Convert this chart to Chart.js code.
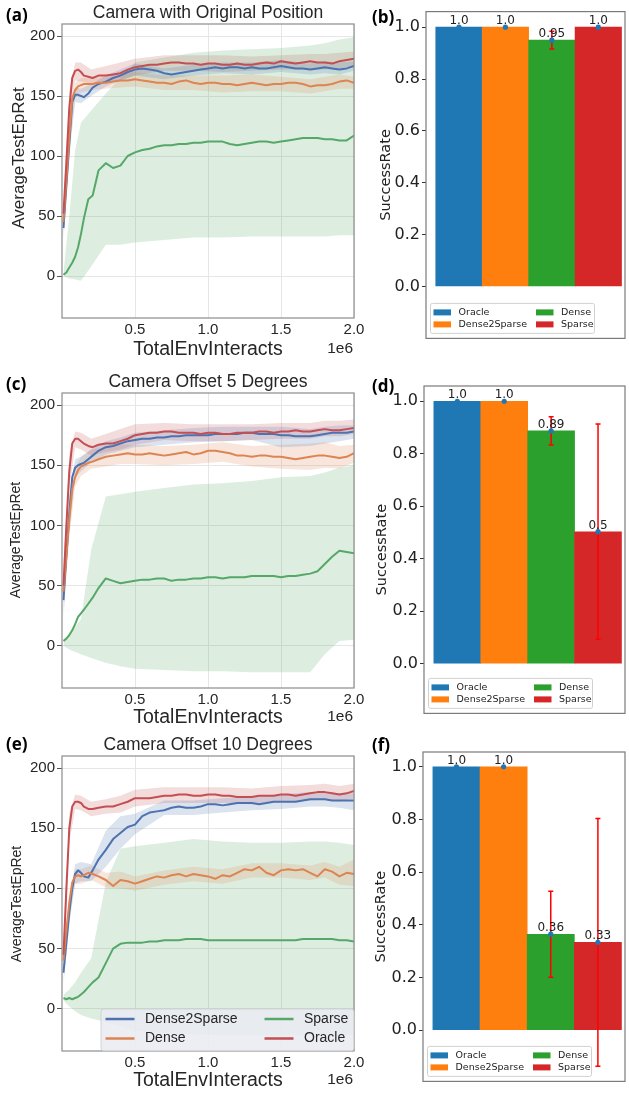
<!DOCTYPE html>
<html>
<head>
<meta charset="utf-8">
<script src="https://cdn.jsdelivr.net/npm/chart.js@4.4.0/dist/chart.umd.min.js"></script>
<style>
  body { margin: 0; background: #fff; }
  #fig { position: relative; width: 629px; height: 1093px; overflow: hidden; }
  #fig canvas { position: absolute; }
</style>
</head>
<body>
<div id="fig">
  <canvas id="retA" width="370" height="361" style="left:0;top:0"></canvas>
  <canvas id="rateB" width="259" height="350" style="left:370px;top:0"></canvas>
  <canvas id="retC" width="370" height="369" style="left:0;top:360px"></canvas>
  <canvas id="rateD" width="259" height="365" style="left:370px;top:360px"></canvas>
  <canvas id="retE" width="370" height="368" style="left:0;top:724px"></canvas>
  <canvas id="rateF" width="259" height="369" style="left:370px;top:724px"></canvas>
</div>
<script>
// x positions in units of 1e6 interactions
const steps = [0.01,0.03,0.05,0.07,0.09,0.11,0.13,0.15,0.18,0.21,0.25,
  0.30,0.35,0.40,0.45,0.50,0.55,0.60,0.65,0.70,0.75,0.80,0.85,0.90,0.95,1.00,1.05,1.10,1.15,1.20,1.25,
  1.30,1.35,1.40,1.45,1.50,1.55,1.60,1.65,1.70,1.75,1.80,1.85,1.90,1.95,2.00];
const bandSteps = [0.01,0.05,0.09,0.13,0.2,0.3,0.4,0.5,0.7,0.9,1.1,1.3,1.5,1.7,1.8,1.9,2.0];

const seriesNames = ['Dense2Sparse', 'Dense', 'Sparse', 'Oracle'];
const xTicks = [0.5, 1.0, 1.5, 2.0];
const retTicks = [0, 50, 100, 150, 200];

// (a) original position
const origD2S = [40,75,110,145,151,151,150,149,152,157,160, 162,165,167,170,172,173,172,171,169,168, 169,170,171,172,173,174,173,174,174,173, 174,173,173,174,175,174,173,173,172,173, 174,173,172,173,175];
const origDense = [45,80,115,148,155,158,159,160,160,160,161, 161,162,163,163,164,163,162,161,161,160, 162,163,161,160,161,161,160,160,159,160, 161,160,159,160,160,161,161,160,158,159, 159,160,162,163,161];
const origSparse = [1,3,7,11,16,24,35,48,64,67,88, 94,90,92,100,103,105,106,108,109,109, 110,110,111,111,112,112,112,110,109,110, 111,112,112,111,112,113,114,115,115,115, 114,114,113,113,117];
const origOracle = [52,95,140,165,171,172,170,167,166,165,167, 167,168,169,172,174,175,176,176,177,178, 178,177,177,176,177,177,176,176,177,176, 176,177,178,177,179,178,177,178,179,178, 178,177,179,180,181];
const origD2SLo = [30,100,145,144,150,158,163,167,164,167,169,168,170,168,169,168,171];
const origD2SHi = [50,120,157,156,160,167,172,177,173,176,178,178,180,177,179,178,179];
const origDenseLo = [35,105,149,153,155,156,157,158,155,155,153,154,154,152,154,156,156];
const origDenseHi = [55,125,161,165,165,166,169,170,167,167,167,168,166,164,166,168,166];
const origSparseLo = [0,-2,-3,-4,8,26,26,28,30,32,32,33,33,33,33,34,34];
const origSparseHi = [3,50,105,128,138,152,165,178,182,186,188,189,190,192,194,197,199];
const origOracleLo = [35,125,163,162,160,161,163,167,171,171,170,171,172,172,172,173,175];
const origOracleHi = [60,155,178,178,172,175,178,181,184,184,184,183,184,185,185,186,187];

// (c) camera offset 5 degrees
const off5D2S = [38,75,110,140,148,150,151,152,155,158,162, 165,166,168,170,171,172,172,173,173,174, 174,175,175,175,175,176,176,176,176,177, 177,176,176,176,175,175,174,174,174,175, 176,177,177,177,178];
const off5Dense = [45,75,105,130,140,146,149,150,152,153,155, 157,158,159,160,159,159,160,159,158,159, 160,161,159,160,162,162,161,160,158,158, 157,158,158,157,157,156,155,156,157,158, 158,157,156,157,160];
const off5Sparse = [4,6,9,13,18,24,27,30,35,40,48, 56,54,52,53,54,55,55,56,56,54, 55,55,56,56,57,57,56,57,57,57, 58,58,58,58,57,58,58,59,60,62, 68,74,79,78,77];
const off5Oracle = [50,100,145,168,172,172,170,168,166,165,167, 168,168,170,172,175,176,177,177,178,178, 177,177,177,176,177,177,176,176,177,177, 177,178,178,177,178,178,179,178,178,179, 180,179,179,180,181];
const off5D2SLo = [22,95,140,145,152,159,162,165,167,169,170,171,165,166,168,170,172];
const off5D2SHi = [50,125,155,157,163,170,173,177,179,181,182,182,182,180,182,183,183];
const off5DenseLo = [30,90,132,141,147,149,151,151,150,151,153,149,147,146,148,147,152];
const off5DenseHi = [55,120,148,157,163,165,167,167,166,167,169,166,167,168,169,166,167];
const off5SparseLo = [0,-3,-5,-7,-10,-14,-17,-19,-20,-21,-21,-22,-22,-22,-7,4,5];
const off5SparseHi = [5,10,16,22,80,124,126,128,131,134,135,137,140,141,144,148,150];
const off5OracleLo = [30,130,165,163,158,161,163,167,171,170,170,171,172,172,174,174,176];
const off5OracleHi = [65,160,178,177,172,176,180,184,185,184,184,184,185,185,187,187,188];

// (e) camera offset 10 degrees
const off10D2S = [30,55,80,100,112,115,113,110,109,115,124, 132,141,146,151,153,160,163,164,165,167, 168,167,167,168,170,170,169,170,171,171, 171,170,171,172,172,172,172,173,174,174, 174,173,173,173,173];
const off10Dense = [40,65,88,105,110,111,110,111,113,112,110, 107,102,107,106,104,106,108,110,109,111, 112,110,112,111,110,108,111,110,113,116, 115,118,113,111,115,116,115,116,113,110, 116,114,110,113,112];
const off10Sparse = [9,8,9,8,9,10,12,14,18,22,26, 38,50,54,55,55,55,56,56,57,57, 57,58,58,58,57,57,57,57,57,57, 57,57,57,57,57,57,57,58,58,58, 58,58,57,57,56];
const off10Oracle = [45,100,150,168,172,172,171,168,166,166,167, 168,168,170,172,175,175,175,176,177,177, 178,178,177,177,178,178,177,177,176,176, 176,177,177,177,178,178,177,178,179,180, 180,179,178,179,181];
const off10D2SLo = [20,70,104,106,106,118,133,145,161,161,163,165,166,168,168,167,165];
const off10D2SHi = [40,90,120,122,120,148,160,162,173,173,175,177,178,180,180,179,179];
const off10DenseLo = [30,80,104,104,107,101,100,98,103,106,104,109,109,107,109,103,102];
const off10DenseHi = [50,96,116,116,119,113,114,110,115,118,116,121,121,119,122,118,124];
const off10SparseLo = [7,2,-2,-5,-8,-11,-14,-18,-20,-21,-22,-22,-22,-22,-22,-22,-22];
const off10SparseHi = [12,16,22,30,42,105,133,135,138,141,139,138,138,139,139,138,136];
const off10OracleLo = [30,138,166,165,160,162,163,168,171,171,171,170,172,173,174,172,175];
const off10OracleHi = [60,162,178,177,172,174,177,182,184,184,184,183,185,186,187,185,187];

// success rate bars
const barNames = ['Oracle', 'Dense2Sparse', 'Dense', 'Sparse'];
const rateTicks = [0, 0.2, 0.4, 0.6, 0.8, 1.0];
const origRate = [1.0, 1.0, 0.95, 1.0];
const origErr = [0, 0, 0.034, 0];
const origText = ['1.0', '1.0', '0.95', '1.0'];
const off5Rate = [1.0, 1.0, 0.887, 0.503];
const off5Err = [0, 0, 0.054, 0.41];
const off5Text = ['1.0', '1.0', '0.89', '0.5'];
const off10Rate = [1.0, 1.0, 0.364, 0.333];
const off10Err = [0, 0, 0.163, 0.47];
const off10Text = ['1.0', '1.0', '0.36', '0.33'];

const lineColors = ['#4c72b0', '#dd8452', '#55a868', '#c44e52'];
const bandColors = ['rgba(76,114,176,0.2)', 'rgba(221,132,82,0.2)', 'rgba(85,168,104,0.2)', 'rgba(196,78,82,0.2)'];
const barColors = ['#1f77b4', '#ff7f0e', '#2ca02c', '#d62728'];
const SEA = '"Liberation Sans", Arial, sans-serif';
const MPL = '"DejaVu Sans", sans-serif';

Chart.defaults.font.family = SEA;
Chart.defaults.color = '#262626';

const toPts = (xs, ys) => ys.map((y, i) => ({ x: xs[i], y: y }));

const retDeco = {
  id: 'retDeco',
  afterDraw(chart, args, o) {
    const ctx = chart.ctx, a = chart.chartArea;
    ctx.save();
    ctx.strokeStyle = '#8c8c8c';
    ctx.lineWidth = 1.2;
    ctx.strokeRect(a.left, a.top, a.right - a.left, a.bottom - a.top);

    ctx.fillStyle = '#262626';
    ctx.textBaseline = 'middle';
    ctx.textAlign = 'center';
    ctx.font = '17.5px ' + SEA;
    ctx.fillText(o.title, (a.left + a.right) / 2, a.top - 11);

    ctx.textAlign = 'right';
    ctx.font = '15.5px ' + SEA;
    ctx.fillText('1e6', a.right - 1, chart.height - 12);

    ctx.save();
    ctx.translate(o.yTitleX, o.yTitleMid);
    ctx.rotate(-Math.PI / 2);
    ctx.textAlign = 'center';
    ctx.font = o.yTitleSize + 'px ' + SEA;
    ctx.fillText('AverageTestEpRet', 0, 0);
    ctx.restore();

    ctx.fillStyle = '#000';
    ctx.textAlign = 'left';
    ctx.font = 'bold 17px "Open Sans", sans-serif';
    ctx.fillText(o.letter, 6, o.letterY);

    if (o.legend) {
      const L = a.left + 39, R = a.right, B = a.bottom, T = B - 42;
      ctx.fillStyle = 'rgba(234,234,242,0.85)';
      ctx.strokeStyle = 'rgba(204,204,204,0.8)';
      ctx.lineWidth = 1;
      ctx.beginPath();
      ctx.roundRect(L, T, R - L, B - T, 3);
      ctx.fill();
      ctx.stroke();
      const slots = [[0, 0, 0], [2, 159, 0], [1, 0, 1], [3, 159, 1]];
      ctx.font = '14px ' + SEA;
      ctx.lineWidth = 2.5;
      slots.forEach(([k, dx, row]) => {
        const cy = T + 10 + row * 19.5;
        ctx.strokeStyle = lineColors[k];
        ctx.beginPath();
        ctx.moveTo(L + 4.5 + dx, cy);
        ctx.lineTo(L + 33.5 + dx, cy);
        ctx.stroke();
        ctx.fillStyle = '#262626';
        ctx.fillText(seriesNames[k], L + 44 + dx, cy);
      });
    }
    ctx.restore();
  }
};

function retChart(id, p) {
  const datasets = [];
  p.lo.forEach((lo, k) => {
    datasets.push({ data: toPts(bandSteps, p.hi[k]), borderColor: 'transparent', borderWidth: 0, pointRadius: 0,
      backgroundColor: bandColors[k], fill: '+1', order: 10 });
    datasets.push({ data: toPts(bandSteps, lo), borderColor: 'transparent', borderWidth: 0, pointRadius: 0,
      fill: false, order: 10 });
  });
  p.means.forEach((m, k) => {
    datasets.push({ label: seriesNames[k], data: toPts(steps, m), borderColor: lineColors[k], borderWidth: 2,
      pointRadius: 0, fill: false, order: 4 - k, borderJoinStyle: 'round' });
  });

  new Chart(document.getElementById(id), {
    type: 'line',
    data: { datasets: datasets },
    options: {
      responsive: false,
      devicePixelRatio: 1,
      animation: false,
      layout: { padding: { top: p.top, right: 16, bottom: 0, left: 0 } },
      plugins: {
        legend: { display: false },
        tooltip: { enabled: false },
        retDeco: { title: p.title, letter: p.letter, letterY: p.letterY, yTitleX: p.yTitleX,
          yTitleMid: p.yTitleMid, yTitleSize: p.yTitleSize, legend: !!p.legend }
      },
      scales: {
        x: {
          type: 'linear', min: 0, max: 2,
          afterBuildTicks: s => { s.ticks = xTicks.map(v => ({ value: v })); },
          afterFit: s => { s.height = p.xH; },
          grid: { color: '#e6e6e6', drawTicks: false },
          border: { display: false },
          ticks: { font: { size: 15 }, color: '#262626', padding: 3, maxRotation: 0, callback: v => v.toFixed(1) },
          title: { display: true, text: 'TotalEnvInteracts', color: '#262626', font: { size: 19.5, lineHeight: 1.2 }, padding: 0 }
        },
        y: {
          min: -35, max: 210,
          afterBuildTicks: s => { s.ticks = retTicks.map(v => ({ value: v })); },
          afterFit: s => { s.width = 62; },
          grid: { color: '#e6e6e6', tickColor: '#555', tickLength: 5 },
          border: { display: false },
          ticks: { font: { size: 15 }, color: '#262626', padding: 2, callback: v => String(v) }
        }
      }
    },
    plugins: [retDeco]
  });
}

const rateDeco = {
  id: 'rateDeco',
  afterDatasetDraw(chart, args) {
    if (args.index !== 0) return;
    const ds = chart.data.datasets[0];
    const ctx = chart.ctx, x = chart.scales.x, y = chart.scales.y;
    ctx.save();
    ctx.strokeStyle = '#ff0000';
    ctx.lineWidth = 1.5;
    ds.data.forEach((pt, i) => {
      const e = ds.errors[i];
      if (!e) return;
      const px = x.getPixelForValue(pt.x);
      const y1 = y.getPixelForValue(pt.y - e), y2 = y.getPixelForValue(pt.y + e);
      ctx.beginPath();
      ctx.moveTo(px, y1); ctx.lineTo(px, y2);
      ctx.moveTo(px - 2.5, y1); ctx.lineTo(px + 2.5, y1);
      ctx.moveTo(px - 2.5, y2); ctx.lineTo(px + 2.5, y2);
      ctx.stroke();
    });
    ctx.restore();
  },
  afterDraw(chart, args, o) {
    const ctx = chart.ctx, a = chart.chartArea, x = chart.scales.x, y = chart.scales.y;
    const ds = chart.data.datasets[0];
    ctx.save();
    ctx.strokeStyle = '#7a7a7a';
    ctx.lineWidth = 1.2;
    ctx.strokeRect(a.left, a.top, a.right - a.left, a.bottom - a.top);

    ctx.fillStyle = '#222';
    ctx.textAlign = 'center';
    ctx.textBaseline = 'alphabetic';
    ctx.font = '12px ' + MPL;
    ds.data.forEach((pt, i) => {
      ctx.fillText(ds.valueText[i], x.getPixelForValue(pt.x), y.getPixelForValue(pt.y) - 3);
    });

    ctx.save();
    ctx.translate(o.yTitleX, (a.top + a.bottom) / 2);
    ctx.rotate(-Math.PI / 2);
    ctx.textBaseline = 'middle';
    ctx.font = '14.5px ' + MPL;
    ctx.fillText('SuccessRate', 0, 0);
    ctx.restore();

    ctx.fillStyle = '#000';
    ctx.textAlign = 'left';
    ctx.textBaseline = 'middle';
    ctx.font = 'bold 17px "Open Sans", sans-serif';
    ctx.fillText(o.letter, 2, o.letterY);

    // legend box, two columns
    const L = a.left + 4.5, B = a.bottom - 5, T = B - 30, W = 164;
    ctx.fillStyle = 'rgba(255,255,255,0.85)';
    ctx.strokeStyle = '#d0d0d0';
    ctx.lineWidth = 1;
    ctx.beginPath();
    ctx.roundRect(L, T, W, B - T, 2);
    ctx.fill();
    ctx.stroke();
    ctx.font = '9.5px ' + MPL;
    const slots = [[0, 0, 0], [1, 0, 1], [2, 102.5, 0], [3, 102.5, 1]];
    slots.forEach(([k, dx, row]) => {
      const cy = T + 9 + row * 12;
      ctx.fillStyle = barColors[k];
      ctx.fillRect(L + 3 + dx, cy - 3, 17.5, 6);
      ctx.fillStyle = '#222';
      ctx.fillText(barNames[k], L + 28 + dx, cy);
    });
    ctx.restore();
  }
};

function rateChart(id, p) {
  const pos = barNames.map((n, i) => i);
  new Chart(document.getElementById(id), {
    type: 'bar',
    data: {
      datasets: [
        { data: toPts(pos, p.rates), backgroundColor: barColors, borderWidth: 0,
          barPercentage: 1, categoryPercentage: 1, order: 2, errors: p.errs, valueText: p.texts },
        { type: 'scatter', data: toPts(pos, p.rates), pointRadius: 2.6, backgroundColor: '#1f77b4',
          borderWidth: 0, order: 1 }
      ]
    },
    options: {
      responsive: false,
      devicePixelRatio: 1,
      animation: false,
      layout: { padding: { top: p.top, right: 2, bottom: p.bottom, left: 0 } },
      plugins: {
        legend: { display: false },
        tooltip: { enabled: false },
        rateDeco: { letter: p.letter, letterY: p.letterY, yTitleX: p.yTitleX }
      },
      scales: {
        x: { type: 'linear', display: false, offset: false, min: -0.71, max: 3.575 },
        y: {
          min: p.yMin, max: p.yMax,
          afterBuildTicks: s => { s.ticks = rateTicks.map(v => ({ value: v })); },
          afterFit: s => { s.width = p.left; },
          grid: { drawOnChartArea: false, tickColor: '#333', tickLength: 4 },
          border: { display: false },
          ticks: { font: { family: MPL, size: 16 }, color: '#222', padding: 2, callback: v => v.toFixed(1) }
        }
      }
    },
    plugins: [rateDeco]
  });
}

document.addEventListener('DOMContentLoaded', () => {
  retChart('retA', {
    title: 'Camera with Original Position', letter: '(a)', letterY: 16.5, top: 24, xH: 43,
    yTitleX: 19, yTitleMid: 158, yTitleSize: 17,
    means: [origD2S, origDense, origSparse, origOracle],
    lo: [origD2SLo, origDenseLo, origSparseLo, origOracleLo],
    hi: [origD2SHi, origDenseHi, origSparseHi, origOracleHi]
  });
  retChart('retC', {
    title: 'Camera Offset 5 Degrees', letter: '(c)', letterY: 25, top: 33, xH: 41,
    yTitleX: 16, yTitleMid: 180, yTitleSize: 14,
    means: [off5D2S, off5Dense, off5Sparse, off5Oracle],
    lo: [off5D2SLo, off5DenseLo, off5SparseLo, off5OracleLo],
    hi: [off5D2SHi, off5DenseHi, off5SparseHi, off5OracleHi]
  });
  retChart('retE', {
    title: 'Camera Offset 10 Degrees', letter: '(e)', letterY: 21.5, top: 32, xH: 41,
    yTitleX: 17.5, yTitleMid: 180, yTitleSize: 14, legend: true,
    means: [off10D2S, off10Dense, off10Sparse, off10Oracle],
    lo: [off10D2SLo, off10DenseLo, off10SparseLo, off10OracleLo],
    hi: [off10D2SHi, off10DenseHi, off10SparseHi, off10OracleHi]
  });

  rateChart('rateB', { letter: '(b)', letterY: 18, top: 8, bottom: 3, left: 56, yTitleX: 16,
    yMin: -0.2, yMax: 1.06, rates: origRate, errs: origErr, texts: origText });
  rateChart('rateD', { letter: '(d)', letterY: 26.7, top: 26, bottom: 3, left: 54, yTitleX: 12.5,
    yMin: -0.189, yMax: 1.058, rates: off5Rate, errs: off5Err, texts: off5Text });
  rateChart('rateF', { letter: '(f)', letterY: 22, top: 28, bottom: 5, left: 53, yTitleX: 11,
    yMin: -0.195, yMax: 1.056, rates: off10Rate, errs: off10Err, texts: off10Text });
});
</script>
</body>
</html>
